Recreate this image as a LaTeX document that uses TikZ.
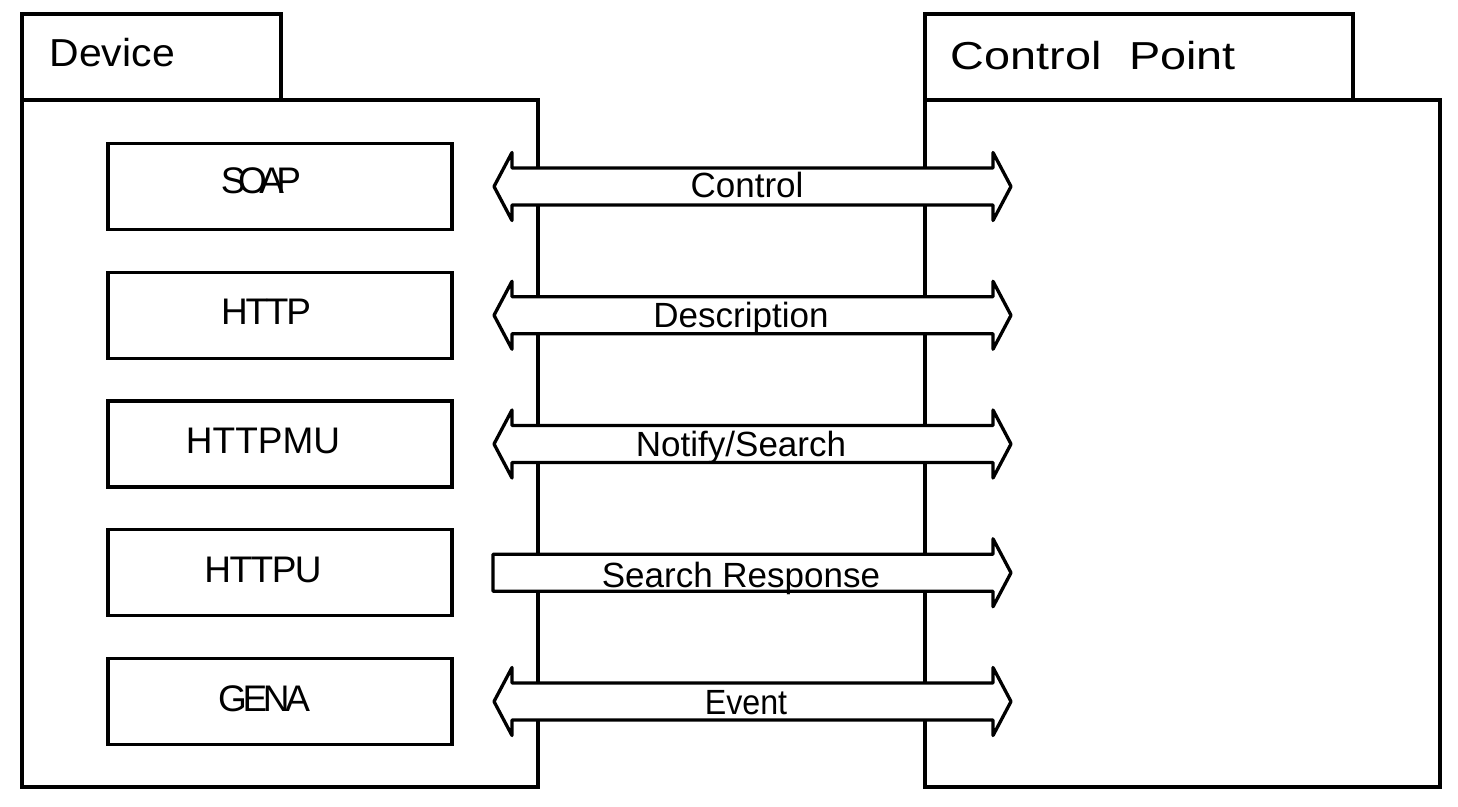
\documentclass[tikz,border=0pt]{standalone}
\usepackage{fontspec}
\setmainfont{Liberation Sans}
\begin{document}
\begin{tikzpicture}[x=1pt,y=-1pt,line width=3.3pt,
  pkgbox/.style={draw,line join=miter},
  layerbox/.style={draw,line join=miter,minimum width=344pt,minimum height=86pt,inner sep=0pt},
  layerlbl/.style={inner sep=0pt,anchor=center,font=\fontsize{37}{40}\selectfont},
  tablbl/.style={inner sep=0pt,anchor=base west,font=\fontsize{39}{42}\selectfont},
  arrlbl/.style={inner sep=0pt,anchor=base,font=\fontsize{35}{38}\selectfont},
  blockarrow/.style={draw,fill=white,line join=round}]
\useasboundingbox (0,0) rectangle (1458,806);
% packages
\draw[pkgbox] (22,100) rectangle (538,787);
\draw[pkgbox] (22,14) rectangle (281,100);
\draw[pkgbox] (925,100) rectangle (1440,787);
\draw[pkgbox] (925,14) rectangle (1353,100);
\node[tablbl] (devlbl) at (48,66) {\scalebox{1.05}[1]{Device}};
\node[tablbl] (cplbl) at (949,69) {\scalebox{1.2}[1]{Control\hspace{23pt}Point}};
% layer boxes
\node[layerbox] (soap) at (280,186.5) {};
\node[layerbox] (http) at (280,315.25) {};
\node[layerbox] (httpmu) at (280,444) {};
\node[layerbox] (httpu) at (280,572.75) {};
\node[layerbox] (gena) at (280,701.5) {};
\node[layerlbl] (soapl) at (261,181) {S\kern-7.6pt O\kern-7.6pt A\kern-7.6pt P};
\node[layerlbl] (httpl) at (266,312) {H\kern-2.2pt T\kern-2.2pt T\kern-2.2pt P};
\node[layerlbl] (httpmul) at (263,441) {HTTPMU};
\node[layerlbl] (httpul) at (263,570) {H\kern-1.5pt T\kern-1.5pt T\kern-1.5pt P\kern-1.5pt U};
\node[layerlbl] (genal) at (264,699) {G\kern-4.3pt E\kern-4.3pt N\kern-4.3pt A};
% block arrows
\foreach \c/\n in {186.5/a1,315.25/a2,444/a3,701.5/a5}{
  \draw[blockarrow] (494,\c) -- (512,\c-34) -- (512,\c-18.5) -- (993,\c-18.5) -- (993,\c-34)
    -- (1011,\c) -- (993,\c+34) -- (993,\c+18.5) -- (512,\c+18.5) -- (512,\c+34) -- cycle;
}
\draw[blockarrow] (493,572.75-18.5) -- (993,572.75-18.5) -- (993,572.75-34) -- (1011,572.75)
  -- (993,572.75+34) -- (993,572.75+18.5) -- (493,572.75+18.5) -- cycle;
\node[arrlbl] (ctl) at (747,197) {Control};
\node[arrlbl] (desc) at (741,327) {Description};
\node[arrlbl] (notify) at (741,456) {Notify/Search};
\node[arrlbl] (sresp) at (741,587) {Search Response};
\node[arrlbl] (event) at (746,714) {\scalebox{0.92}[1]{Event}};
\end{tikzpicture}
\end{document}
